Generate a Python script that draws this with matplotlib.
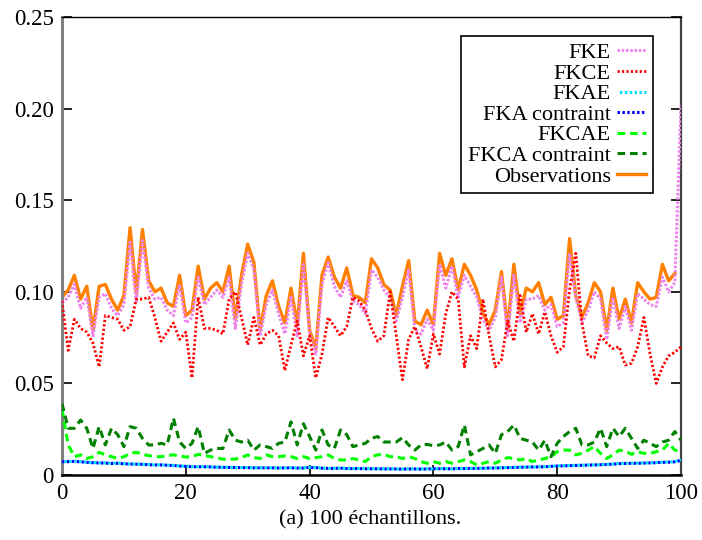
import numpy as np
import matplotlib
matplotlib.use('Agg')
from matplotlib import pyplot as plt

# valeurs (a) 100 echantillons
obs = [0.097, 0.101, 0.109, 0.096, 0.103, 0.079, 0.103, 0.104, 0.096, 0.090,
       0.098, 0.135, 0.099, 0.134, 0.106, 0.100, 0.102, 0.094, 0.092, 0.109,
       0.087, 0.090, 0.114, 0.096, 0.102, 0.105, 0.100, 0.114, 0.085, 0.109,
       0.126, 0.116, 0.079, 0.098, 0.106, 0.092, 0.083, 0.102, 0.082, 0.121,
       0.079, 0.069, 0.109, 0.119, 0.108, 0.102, 0.113, 0.098, 0.097, 0.094,
       0.118, 0.113, 0.104, 0.101, 0.087, 0.103, 0.117, 0.084, 0.082, 0.090,
       0.082, 0.121, 0.109, 0.118, 0.101, 0.115, 0.109, 0.101, 0.088, 0.082,
       0.090, 0.111, 0.080, 0.115, 0.088, 0.102, 0.100, 0.105, 0.093, 0.097,
       0.085, 0.087, 0.129, 0.098, 0.086, 0.094, 0.105, 0.100, 0.079, 0.102,
       0.085, 0.096, 0.083, 0.105, 0.100, 0.096, 0.097, 0.115, 0.106, 0.110]

fke = [0.094, 0.097, 0.104, 0.091, 0.097, 0.076, 0.097, 0.099, 0.091, 0.087,
       0.093, 0.127, 0.094, 0.128, 0.102, 0.096, 0.097, 0.090, 0.087, 0.104,
       0.083, 0.086, 0.108, 0.093, 0.097, 0.101, 0.097, 0.108, 0.080, 0.104,
       0.121, 0.112, 0.076, 0.093, 0.101, 0.088, 0.077, 0.097, 0.076, 0.115,
       0.077, 0.066, 0.104, 0.116, 0.103, 0.097, 0.106, 0.095, 0.093, 0.088,
       0.112, 0.108, 0.101, 0.097, 0.084, 0.097, 0.112, 0.079, 0.077, 0.085,
       0.079, 0.115, 0.102, 0.114, 0.097, 0.109, 0.103, 0.097, 0.085, 0.079,
       0.086, 0.108, 0.076, 0.109, 0.083, 0.096, 0.096, 0.098, 0.090, 0.093,
       0.081, 0.083, 0.121, 0.097, 0.083, 0.090, 0.100, 0.096, 0.074, 0.097,
       0.080, 0.092, 0.079, 0.099, 0.096, 0.093, 0.092, 0.108, 0.100, 0.105,
       0.202]

fkce = [0.095, 0.068, 0.085, 0.080, 0.078, 0.072, 0.059, 0.087, 0.086, 0.085,
        0.079, 0.081, 0.096, 0.096, 0.097, 0.086, 0.073, 0.078, 0.083, 0.074,
        0.078, 0.053, 0.097, 0.080, 0.080, 0.079, 0.077, 0.096, 0.100, 0.086,
        0.071, 0.086, 0.071, 0.077, 0.079, 0.076, 0.057, 0.071, 0.084, 0.065,
        0.076, 0.053, 0.066, 0.086, 0.081, 0.076, 0.081, 0.097, 0.095, 0.090,
        0.080, 0.073, 0.076, 0.100, 0.076, 0.052, 0.074, 0.081, 0.070, 0.058,
        0.077, 0.066, 0.088, 0.100, 0.096, 0.059, 0.076, 0.069, 0.096, 0.076,
        0.059, 0.063, 0.084, 0.073, 0.098, 0.078, 0.088, 0.077, 0.089, 0.076,
        0.067, 0.070, 0.101, 0.121, 0.083, 0.065, 0.064, 0.076, 0.072, 0.069,
        0.070, 0.060, 0.061, 0.070, 0.086, 0.066, 0.050, 0.059, 0.065, 0.067,
        0.070]

fkae = [0.0073, 0.0074, 0.0075, 0.0073, 0.0070, 0.0068, 0.0066, 0.0066, 0.0064, 0.0065,
        0.0062, 0.0060, 0.0060, 0.0058, 0.0057, 0.0055, 0.0056, 0.0054, 0.0052, 0.0050,
        0.0047, 0.0046, 0.0045, 0.0046, 0.0044, 0.0043, 0.0042, 0.0042, 0.0041, 0.0041,
        0.0040, 0.0040, 0.0040, 0.0039, 0.0040, 0.0039, 0.0039, 0.0040, 0.0038, 0.0039,
        0.0042, 0.0041, 0.0038, 0.0036, 0.0037, 0.0038, 0.0036, 0.0035, 0.0036, 0.0035,
        0.0035, 0.0034, 0.0034, 0.0034, 0.0033, 0.0033, 0.0034, 0.0033, 0.0033, 0.0034,
        0.0034, 0.0035, 0.0035, 0.0034, 0.0035, 0.0036, 0.0036, 0.0037, 0.0037, 0.0038,
        0.0039, 0.0040, 0.0041, 0.0042, 0.0043, 0.0043, 0.0044, 0.0045, 0.0046, 0.0047,
        0.0050, 0.0051, 0.0052, 0.0053, 0.0053, 0.0055, 0.0055, 0.0056, 0.0058, 0.0060,
        0.0063, 0.0064, 0.0064, 0.0065, 0.0066, 0.0067, 0.0068, 0.0070, 0.0071, 0.0073,
        0.0082]

fka_c = [0.0072, 0.0073, 0.0074, 0.0072, 0.0069, 0.0067, 0.0066, 0.0065, 0.0063, 0.0064,
         0.0061, 0.0060, 0.0059, 0.0058, 0.0056, 0.0055, 0.0055, 0.0053, 0.0052, 0.0049,
         0.0047, 0.0045, 0.0045, 0.0045, 0.0044, 0.0042, 0.0042, 0.0041, 0.0041, 0.0040,
         0.0040, 0.0039, 0.0039, 0.0039, 0.0039, 0.0038, 0.0039, 0.0039, 0.0038, 0.0038,
         0.0041, 0.0040, 0.0037, 0.0036, 0.0036, 0.0037, 0.0035, 0.0035, 0.0035, 0.0034,
         0.0034, 0.0034, 0.0033, 0.0033, 0.0033, 0.0032, 0.0033, 0.0033, 0.0032, 0.0033,
         0.0034, 0.0034, 0.0034, 0.0034, 0.0035, 0.0035, 0.0036, 0.0036, 0.0037, 0.0038,
         0.0038, 0.0039, 0.0040, 0.0041, 0.0042, 0.0043, 0.0044, 0.0044, 0.0045, 0.0047,
         0.0049, 0.0050, 0.0051, 0.0052, 0.0053, 0.0054, 0.0055, 0.0056, 0.0057, 0.0059,
         0.0062, 0.0063, 0.0064, 0.0064, 0.0065, 0.0066, 0.0067, 0.0069, 0.0070, 0.0072,
         0.0080]

fkcae = [0.036, 0.0164, 0.010, 0.011, 0.009, 0.010, 0.0124, 0.011, 0.010, 0.009,
         0.010, 0.0118, 0.0124, 0.0113, 0.0106, 0.010, 0.010, 0.0106, 0.011, 0.0104,
         0.0098, 0.010, 0.0113, 0.0106, 0.010, 0.0095, 0.0086, 0.0086, 0.0087, 0.0095,
         0.011, 0.0095, 0.009, 0.011, 0.010, 0.010, 0.0104, 0.010, 0.009, 0.010,
         0.009, 0.0095, 0.010, 0.011, 0.009, 0.0082, 0.0082, 0.009, 0.0082, 0.0073,
         0.010, 0.011, 0.0113, 0.010, 0.010, 0.009, 0.010, 0.009, 0.0073, 0.0064,
         0.0073, 0.0064, 0.0073, 0.0064, 0.0073, 0.0082, 0.0073, 0.0055, 0.0064, 0.0073,
         0.0064, 0.0082, 0.0095, 0.009, 0.0082, 0.009, 0.0073, 0.0082, 0.009, 0.010,
         0.0127, 0.0136, 0.0136, 0.011, 0.0118, 0.0136, 0.0155, 0.0118, 0.009, 0.011,
         0.0136, 0.013, 0.0113, 0.0127, 0.0118, 0.0118, 0.0127, 0.0136, 0.0173, 0.0136,
         0.013]

fkca_c = [0.039, 0.0255, 0.0255, 0.030, 0.0255, 0.0145, 0.0264, 0.0164, 0.0255, 0.022,
          0.0155, 0.0264, 0.0255, 0.020, 0.0164, 0.0164, 0.0173, 0.0164, 0.031, 0.018,
          0.0145, 0.0173, 0.0264, 0.0118, 0.0136, 0.0145, 0.0145, 0.0246, 0.019, 0.018,
          0.019, 0.0136, 0.0164, 0.0155, 0.0145, 0.0173, 0.018, 0.029, 0.0164, 0.028,
          0.021, 0.0136, 0.0246, 0.0164, 0.0145, 0.0246, 0.022, 0.0155, 0.0164, 0.0173,
          0.020, 0.021, 0.018, 0.018, 0.018, 0.0204, 0.0164, 0.0136, 0.0164, 0.0167,
          0.016, 0.0164, 0.018, 0.0136, 0.0155, 0.0273, 0.011, 0.0127, 0.0145, 0.0164,
          0.0118, 0.022, 0.0237, 0.0273, 0.020, 0.019, 0.018, 0.0136, 0.019, 0.010,
          0.0173, 0.021, 0.0237, 0.0255, 0.0164, 0.0164, 0.018, 0.0255, 0.0155, 0.0255,
          0.021, 0.0255, 0.020, 0.0145, 0.019, 0.0173, 0.0155, 0.018, 0.019, 0.0237,
          0.019]

xticks = [0, 20, 40, 60, 80, 100]
yticks = [0, 0.05, 0.10, 0.15, 0.20, 0.25]
ylabels = ['0', '0.05', '0.10', '0.15', '0.20', '0.25']
caption = '(a) 100 échantillons.'

plt.rcParams['font.family'] = ['Liberation Serif', 'DejaVu Serif']

fig = plt.figure(figsize=(7.02, 5.40), dpi=100)
ax = fig.add_axes([62/702, 1-475/540, (681-62)/702, (475-17)/540])

t = np.arange(len(fke))
ax.plot(np.arange(len(obs)), obs, color='#ff8000', lw=2.4, zorder=2, label='Observations')
ax.plot(t, fke, color='#ee82ee', lw=2.2, ls=(0, (0.8, 0.6)), zorder=3, label='FKE')
ax.plot(t, fkce, color='#ff0000', lw=2.0, ls=(0, (0.8, 0.8)), zorder=3, label='FKCE')
ax.plot(t, fka_c, color='#0000ff', lw=2.2, ls=(0, (0.8, 0.8)), zorder=3, label='FKA contraint')
ax.plot(t, fkae, color='#00e0ff', lw=2.2, ls=(0.8, (0.8, 0.8)), zorder=3, label='FKAE')
ax.plot(t, fkcae, color='#00ff00', lw=2.2, ls=(0, (2.5, 1.6)), zorder=3, label='FKCAE')
ax.plot(t, fkca_c, color='#008000', lw=2.2, ls=(0, (2.5, 1.6)), zorder=3, label='FKCA contraint')

ax.set_xlim(0, 100)
ax.set_ylim(0, 0.25)
ax.set_xticks(xticks)
ax.set_xticklabels([str(v) for v in xticks])
ax.set_yticks(yticks)
ax.set_yticklabels(ylabels)
ax.tick_params(direction='in', length=7, width=1.2, labelsize=16.5,
               right=True, top=False, pad=6)

for s in ['left']:
    ax.spines[s].set_color('#808080')
    ax.spines[s].set_linewidth(2.2)
ax.spines['bottom'].set_linewidth(1.8)
ax.spines['right'].set_color('#404040')
ax.spines['right'].set_linewidth(1.6)
ax.spines['top'].set_linewidth(1.0)

h, l = ax.get_legend_handles_labels()
order = ['FKE', 'FKCE', 'FKAE', 'FKA contraint', 'FKCAE', 'FKCA contraint', 'Observations']
hh = [h[l.index(o)] for o in order]
leg = ax.legend(hh, order, loc='upper right', bbox_to_anchor=(653/702, 1-36/540),
                bbox_transform=fig.transFigure, markerfirst=False, fontsize=16,
                frameon=True, fancybox=False, edgecolor='black', framealpha=1,
                labelspacing=0.0, handlelength=1.3, handletextpad=0.3,
                borderpad=0.3, borderaxespad=0)
leg.get_frame().set_linewidth(1.2)

fig.text(370/702, 1-520/540, caption, ha='center', va='center', fontsize=16)

fig.savefig('out.png', dpi=100)
